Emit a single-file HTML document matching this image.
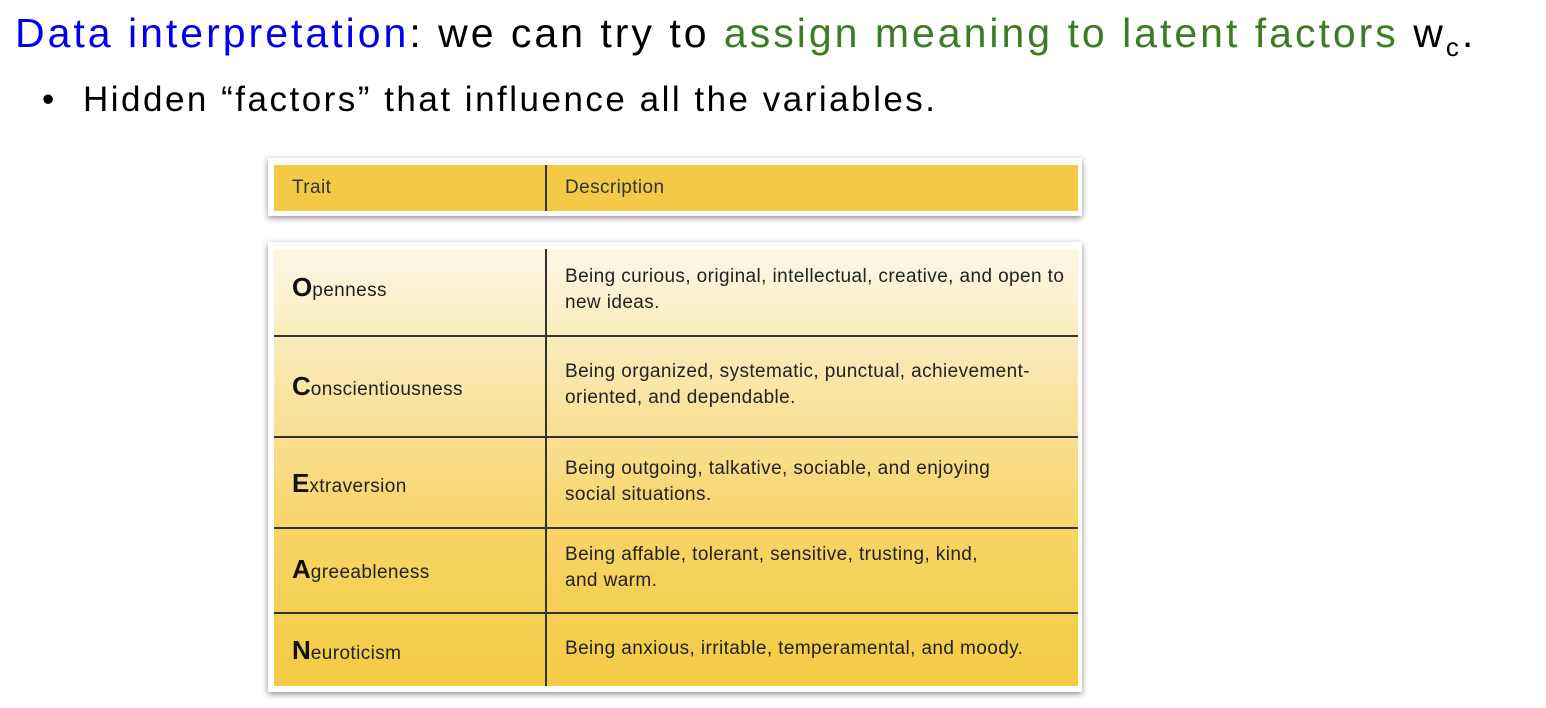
<!DOCTYPE html>
<html><head><style>
body{margin:0;width:1546px;height:708px;background:#fff;overflow:hidden;position:relative;font-family:"Liberation Sans",sans-serif}
.t{position:absolute;white-space:nowrap}
.box{position:absolute;background:#fff;box-shadow:0 2px 6px rgba(0,0,0,.45)}
.cell{position:absolute;font-size:19px;color:#222;line-height:26px;white-space:nowrap;letter-spacing:0.4px}
.hl{position:absolute;left:274px;width:804px;height:2px;background:#333}
.big{font-weight:bold;font-size:26px;color:#111;letter-spacing:0}
</style></head><body>
<div class="t" style="left:15px;top:10px;font-size:41px;letter-spacing:3px"><span style="color:#0000ee">Data interpretation</span>: we can try to <span style="color:#3a7d22">assign meaning to latent factors</span> w<sub style="font-size:26px">c</sub>.</div>
<div class="t" style="left:42px;top:80px;font-size:35px;letter-spacing:2.5px">•&nbsp;<span style="margin-left:14px">Hidden “factors” that influence all the variables.</span></div>

<div class="box" style="left:268px;top:158px;width:814px;height:58px"></div>
<div style="position:absolute;left:274px;top:165px;width:804px;height:46px;background:#f4c945"></div>
<div style="position:absolute;left:545px;top:165px;width:2px;height:46px;background:#333"></div>
<div class="cell" style="left:292px;top:175px;color:#333">Trait</div>
<div class="cell" style="left:565px;top:175px;color:#333">Description</div>

<div class="box" style="left:268px;top:242px;width:814px;height:450px"></div>
<div style="position:absolute;left:274px;top:249px;width:804px;height:437px;background:linear-gradient(#fdf7e6 0%,#f9e3a0 35%,#f6d466 65%,#f4cb44 100%)"></div>
<div style="position:absolute;left:545px;top:249px;width:2px;height:437px;background:#333"></div>
<div class="hl" style="top:335px"></div>
<div class="hl" style="top:436px"></div>
<div class="hl" style="top:527px"></div>
<div class="hl" style="top:612px"></div>

<div class="cell" style="left:292px;top:274px"><span class="big">O</span>penness</div>
<div class="cell" style="left:565px;top:264px">Being curious, original, intellectual, creative, and open to<br>new ideas.</div>
<div class="cell" style="left:292px;top:373px"><span class="big">C</span>onscientiousness</div>
<div class="cell" style="left:565px;top:359px">Being organized, systematic, punctual, achievement-<br>oriented, and dependable.</div>
<div class="cell" style="left:292px;top:470px"><span class="big">E</span>xtraversion</div>
<div class="cell" style="left:565px;top:456px">Being outgoing, talkative, sociable, and enjoying<br>social situations.</div>
<div class="cell" style="left:292px;top:556px"><span class="big">A</span>greeableness</div>
<div class="cell" style="left:565px;top:542px">Being affable, tolerant, sensitive, trusting, kind,<br>and warm.</div>
<div class="cell" style="left:292px;top:637px"><span class="big">N</span>euroticism</div>
<div class="cell" style="left:565px;top:636px">Being anxious, irritable, temperamental, and moody.</div>
</body></html>
